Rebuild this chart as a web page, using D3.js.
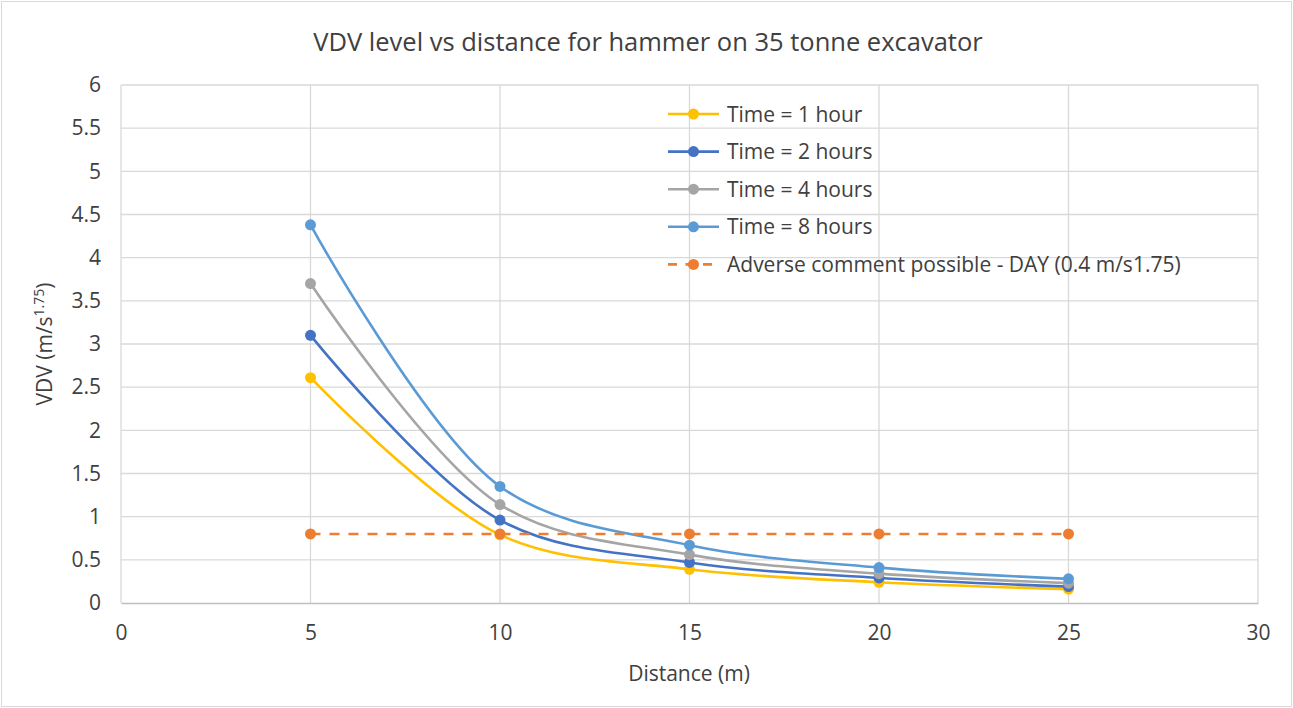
<!DOCTYPE html>
<html>
<head>
<meta charset="utf-8">
<script src="https://cdn.jsdelivr.net/npm/d3@7"></script>
<style>
  body { margin: 0; background: #fff; overflow: hidden; }
  text { font-family: "Open Sans", "Liberation Sans", sans-serif; fill: #404040; }
</style>
</head>
<body>
<script>
// chart data
var distances = [5, 10, 15, 20, 25];
var seriesNames = ["Time = 1 hour", "Time = 2 hours", "Time = 4 hours", "Time = 8 hours",
    "Adverse comment possible - DAY (0.4 m/s1.75)"];
var vdv1h = [2.61, 0.79, 0.39, 0.24, 0.16];
var vdv2h = [3.10, 0.96, 0.47, 0.29, 0.19];
var vdv4h = [3.70, 1.14, 0.56, 0.34, 0.23];
var vdv8h = [4.38, 1.35, 0.67, 0.41, 0.28];
var adverse = [0.8, 0.8, 0.8, 0.8, 0.8];
var xTicks = [0, 5, 10, 15, 20, 25, 30];
var yTicks = [0, 0.5, 1, 1.5, 2, 2.5, 3, 3.5, 4, 4.5, 5, 5.5, 6];

var colors = ["#FFC000", "#4472C4", "#A5A5A5", "#5B9BD5", "#ED7D31"];
var allSeries = [vdv1h, vdv2h, vdv4h, vdv8h, adverse];

var width = 1293, height = 708;
var margin = {left: 121, right: 35, top: 85, bottom: 105};

var svg = d3.select("body").append("svg")
    .attr("width", width)
    .attr("height", height);

//outer frame
svg.append("rect")
    .attr("x", 1.5).attr("y", 1.5)
    .attr("width", width - 3).attr("height", height - 3)
    .attr("fill", "#fff")
    .attr("stroke", "#d9d9d9");

var x = d3.scaleLinear().domain([0, 30]).range([margin.left, width - margin.right]);
var y = d3.scaleLinear().domain([0, 6]).range([height - margin.bottom, margin.top]);

//gridlines
svg.append("g").selectAll("line").data(yTicks.slice(1)).enter().append("line")
    .attr("x1", x(0)).attr("x2", x(30))
    .attr("y1", d => y(d)).attr("y2", d => y(d))
    .attr("stroke", "#d9d9d9").attr("stroke-width", 1.3);
svg.append("g").selectAll("line").data(xTicks).enter().append("line")
    .attr("x1", d => x(d)).attr("x2", d => x(d))
    .attr("y1", y(0)).attr("y2", y(6))
    .attr("stroke", "#d9d9d9").attr("stroke-width", 1.3);

//axes
var xAxis = svg.append("g")
    .attr("transform", "translate(0," + y(0) + ")")
    .call(d3.axisBottom(x).tickValues(xTicks).tickSize(0).tickPadding(22));
xAxis.select(".domain").attr("stroke", "#bfbfbf").attr("stroke-width", 1.3);
xAxis.selectAll("text").style("font-size", "21px").attr("fill", "#404040")
    .style("font-family", "'Open Sans', sans-serif");

var yAxis = svg.append("g")
    .attr("transform", "translate(" + x(0) + ",0)")
    .call(d3.axisLeft(y).tickValues(yTicks).tickFormat(d3.format("")).tickSize(0).tickPadding(20));
yAxis.select(".domain").remove();
yAxis.selectAll("text").style("font-size", "21px").attr("fill", "#404040")
    .style("font-family", "'Open Sans', sans-serif");

//titles
svg.append("text")
    .attr("x", 648).attr("y", 51)
    .attr("text-anchor", "middle")
    .style("font-size", "25.5px")
    .text("VDV level vs distance for hammer on 35 tonne excavator");

svg.append("text")
    .attr("x", 689).attr("y", 681)
    .attr("text-anchor", "middle")
    .style("font-size", "21px")
    .text("Distance (m)");

var yTitle = svg.append("text")
    .attr("transform", "translate(52," + 344 + ") rotate(-90)")
    .attr("text-anchor", "middle")
    .style("font-size", "21px");
yTitle.append("tspan").text("VDV (m/s");
yTitle.append("tspan").attr("dy", -8).style("font-size", "14px").text("1.75");
yTitle.append("tspan").attr("dy", 8).text(")");

//lines
var smooth = d3.line()
    .x((d, i) => x(distances[i]))
    .y(d => y(d))
    .curve(d3.curveCatmullRom.alpha(0.5));

var straight = d3.line()
    .x((d, i) => x(distances[i]))
    .y(d => y(d));

allSeries.forEach(function(s, k) {
    var dashed = k == 4;
    svg.append("path")
        .attr("d", dashed ? straight(s) : smooth(s))
        .attr("fill", "none")
        .attr("stroke", colors[k])
        .attr("stroke-width", 2.6)
        .attr("stroke-dasharray", dashed ? "10 9" : null);
});

allSeries.forEach(function(s, k) {
    svg.append("g").selectAll("circle").data(s).enter().append("circle")
        .attr("cx", (d, i) => x(distances[i]))
        .attr("cy", d => y(d))
        .attr("r", 5.5)
        .attr("fill", colors[k]);
});

//legend
var legend = svg.append("g");
seriesNames.forEach(function(name, k) {
    var ly = 114 + k * 37.6;
    legend.append("line")
        .attr("x1", 668).attr("x2", 719)
        .attr("y1", ly).attr("y2", ly)
        .attr("stroke", colors[k])
        .attr("stroke-width", 2.6)
        .attr("stroke-dasharray", k == 4 ? "9 8.5" : null);
    legend.append("circle")
        .attr("cx", 693.5).attr("cy", ly).attr("r", 5.5)
        .attr("fill", colors[k]);
    legend.append("text")
        .attr("x", 727).attr("y", ly + 7.5)
        .style("font-size", "21px")
        .text(name);
});
</script>
</body>
</html>
